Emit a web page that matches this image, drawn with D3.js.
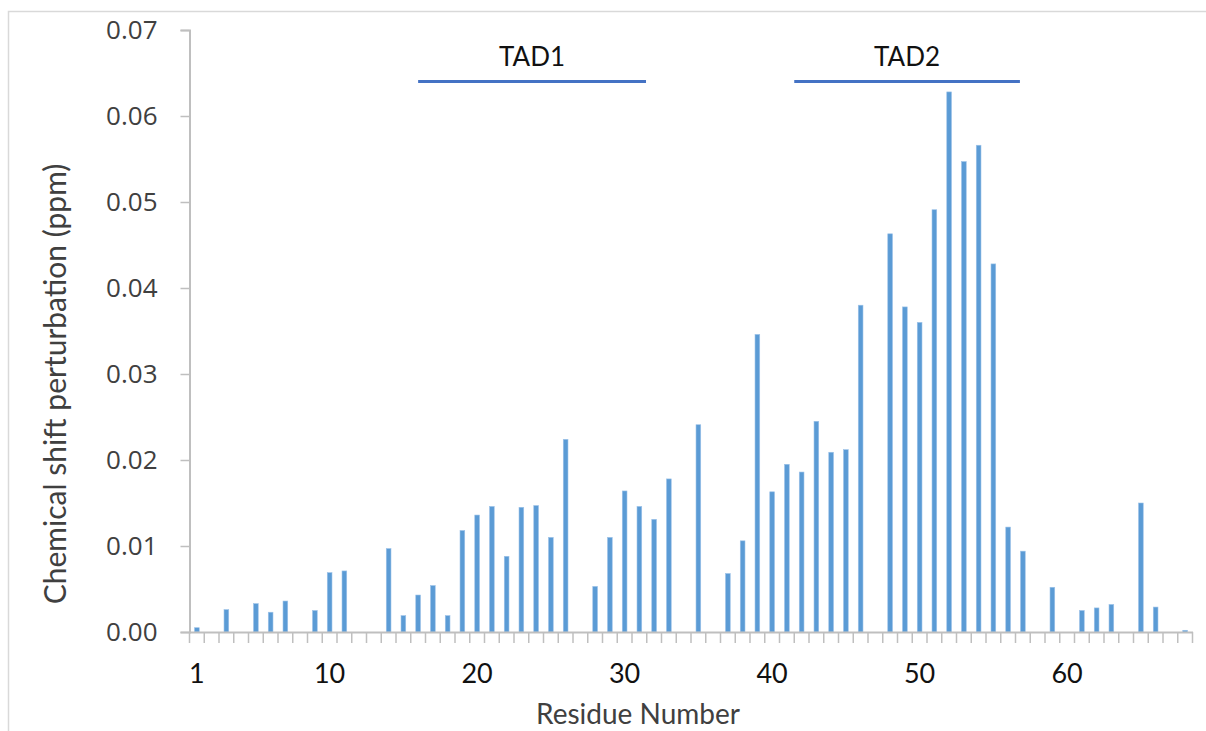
<!DOCTYPE html>
<html>
<head>
<meta charset="utf-8">
<script src="https://cdn.jsdelivr.net/npm/d3@7"></script>
<style>
  body { margin: 0; background: #fff; }
  svg { display: block; }
</style>
</head>
<body>
<div id="chart"></div>
<script>
// residue numbers 1..68, null where no value was measured
const residues = d3.range(1, 69);
const shifts = [
  0.0005, null, 0.0026, null, 0.0033, 0.0023, 0.0036, null, 0.0025, 0.0069,
  0.0071, null, null, 0.0097, 0.0019, 0.0043, 0.0054, 0.0019, 0.0118, 0.0136,
  0.0146, 0.0088, 0.0145, 0.0147, 0.0110, 0.0224, null, 0.0053, 0.0110, 0.0164,
  0.0146, 0.0131, 0.0178, null, 0.0241, null, 0.0068, 0.0106, 0.0346, 0.0163,
  0.0195, 0.0186, 0.0245, 0.0209, 0.0212, 0.0380, null, 0.0463, 0.0378, 0.0360,
  0.0491, 0.0628, 0.0547, 0.0566, 0.0428, 0.0122, 0.0094, null, 0.0052, null,
  0.0025, 0.0028, 0.0032, null, 0.0150, 0.0029, null, 0.0002
];
const xTickLabels = [1, 10, 20, 30, 40, 50, 60];
const yTicks = [0, 0.01, 0.02, 0.03, 0.04, 0.05, 0.06, 0.07];
const domains = ["TAD1", "TAD2"];
const domainStart = [16, 41.5];
const domainEnd = [31.45, 56.8];

const width = 1206;
const height = 731;
const margin = { top: 30, right: 13.5, bottom: 99, left: 189.5 };

const svg = d3.select("#chart")
  .append("svg")
    .attr("width", width)
    .attr("height", height);

// outer chart border (only top and left visible in the crop)
svg.append("path")
  .attr("d", `M8.5,${height} V11.5 H${width}`)
  .attr("fill", "none")
  .attr("stroke", "#d9d9d9")
  .attr("stroke-width", 1.5);

const x = d3.scaleBand()
  .domain(residues)
  .range([margin.left, width - margin.right])
  .padding(0);

// continuous residue position, used for the domain bars
const xr = d3.scaleLinear()
  .domain([0.5, residues.length + 0.5])
  .range([margin.left, width - margin.right]);

const y = d3.scaleLinear()
  .domain([0, 0.07])
  .range([height - margin.bottom, margin.top]);

const barW = x.bandwidth() * 0.32;

// bars
svg.append("g")
  .selectAll("rect")
  .data(residues.map((r, i) => ({ r: r, v: shifts[i] })).filter(d => d.v != null))
  .enter()
  .append("rect")
    .attr("x", d => x(d.r) + (x.bandwidth() - barW) / 2)
    .attr("y", d => y(d.v))
    .attr("width", barW)
    .attr("height", d => y(0) - y(d.v))
    .style("fill", "#5b9bd5")
    .style("stroke", "#9cc2e8")
    .style("stroke-width", 0.6);

// y axis
const yAxis = svg.append("g")
  .attr("transform", `translate(${margin.left},0)`)
  .call(d3.axisLeft(y).tickValues(yTicks).tickFormat(d3.format(".2f")).tickSize(9).tickPadding(23));
yAxis.select(".domain").attr("stroke", "#bfbfbf").attr("stroke-width", 2);
yAxis.selectAll(".tick line").attr("stroke", "#bfbfbf").attr("stroke-width", 1.5);
yAxis.selectAll(".tick text")
  .attr("font-family", "'Open Sans', sans-serif")
  .attr("font-size", "26px")
  .attr("fill", "#404040");

// x axis: ticks between categories, labels at selected residues
const xAxis = svg.append("g")
  .attr("transform", `translate(0,${y(0)})`)
  .call(d3.axisBottom(x).tickValues([]).tickSizeOuter(0));
xAxis.select(".domain").attr("stroke", "#bfbfbf").attr("stroke-width", 2);

xAxis.selectAll("line.cat")
  .data(d3.range(residues.length + 1))
  .enter()
  .append("line")
    .attr("class", "cat")
    .attr("x1", i => xr(i + 0.5))
    .attr("x2", i => xr(i + 0.5))
    .attr("y1", 0)
    .attr("y2", 11)
    .attr("stroke", "#bfbfbf")
    .attr("stroke-width", 1.5);

xAxis.selectAll("text.lab")
  .data(xTickLabels)
  .enter()
  .append("text")
    .attr("class", "lab")
    .attr("x", d => x(d) + x.bandwidth() / 2)
    .attr("y", 51)
    .attr("text-anchor", "middle")
    .attr("font-family", "Lato, sans-serif")
    .attr("font-size", "27px")
    .attr("fill", "#111")
    .text(d => d);

// axis titles
svg.append("text")
  .attr("x", 638)
  .attr("y", 724)
  .attr("text-anchor", "middle")
  .attr("font-family", "Lato, sans-serif")
  .attr("font-size", "28px")
  .attr("fill", "#404040")
  .text("Residue Number");

svg.append("text")
  .attr("transform", "translate(66,384) rotate(-90)")
  .attr("text-anchor", "middle")
  .attr("font-family", "Lato, sans-serif")
  .attr("font-size", "30px")
  .attr("fill", "#404040")
  .text("Chemical shift perturbation (ppm)");

// domain annotations
const dom = svg.append("g")
  .selectAll("g")
  .data(domains.map((name, i) => ({ name: name, a: domainStart[i], b: domainEnd[i] })))
  .enter()
  .append("g");

dom.append("line")
  .attr("x1", d => xr(d.a))
  .attr("x2", d => xr(d.b))
  .attr("y1", 81.5)
  .attr("y2", 81.5)
  .attr("stroke", "#4472c4")
  .attr("stroke-width", 3);

dom.append("text")
  .attr("x", d => (xr(d.a) + xr(d.b)) / 2)
  .attr("y", 66)
  .attr("text-anchor", "middle")
  .attr("font-family", "Lato, sans-serif")
  .attr("font-size", "26px")
  .attr("fill", "#111")
  .text(d => d.name);
</script>
</body>
</html>
